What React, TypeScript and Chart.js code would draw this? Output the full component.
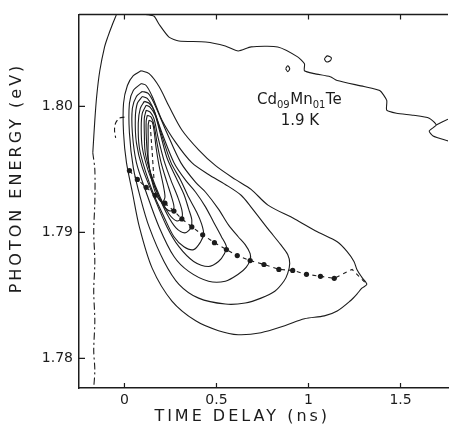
import { useEffect, useRef } from "react";
import { Chart, registerables } from "chart.js";

Chart.register(...registerables);

const INK = "#1c1c1c";
const FONT = '"DejaVu Sans", "Liberation Sans", sans-serif';

// axes
const xRange = [-0.247, 1.758];
const yRange = [1.77765, 1.80729];
const xTickValues = [0, 0.5, 1, 1.5];
const xTickLabels = ["0", "0.5", "1", "1.5"];
const yTickValues = [1.78, 1.79, 1.8];
const yTickLabels = ["1.78", "1.79", "1.80"];
const xTitle = "TIME DELAY (ns)";
const yTitle = "PHOTON ENERGY (eV)";
const sampleName = ["Cd", "09", "Mn", "01", "Te"];
const temperature = "1.9 K";

// [time delay (ns), photon energy (eV)]
const leftEdgeSolid: [number, number][] = [
  [-0.043, 1.80729], [-0.065, 1.80651], [-0.091, 1.80549], [-0.108, 1.80471],
  [-0.134, 1.80282], [-0.151, 1.80078], [-0.161, 1.7989], [-0.172, 1.79631],
];
const leftEdgeDashed: [number, number][] = [
  [-0.172, 1.79631], [-0.161, 1.79498], [-0.161, 1.79239], [-0.167, 1.79004],
  [-0.161, 1.78769], [-0.167, 1.78533], [-0.161, 1.78298], [-0.167, 1.78063],
  [-0.161, 1.77906], [-0.167, 1.77765],
];
const topRight: [number, number][] = [
  [0.118, 1.80729], [0.161, 1.80714], [0.188, 1.80651], [0.242, 1.80549],
  [0.296, 1.80518], [0.441, 1.8051], [0.548, 1.80478], [0.618, 1.80439],
  [0.688, 1.80471], [0.833, 1.80471], [0.941, 1.80392], [0.978, 1.80337],
  [0.978, 1.80282], [1.032, 1.80259], [1.118, 1.80235], [1.156, 1.80204],
  [1.301, 1.80157], [1.387, 1.80125], [1.425, 1.80047], [1.425, 1.79969],
  [1.478, 1.79945], [1.57, 1.79929], [1.656, 1.79906], [1.694, 1.79851],
  [1.656, 1.79804], [1.677, 1.79765], [1.758, 1.79725],
];
const topRightBranch: [number, number][] = [[1.694, 1.79851], [1.758, 1.79898]];
const islandA: [number, number][] = [
  [1.086, 1.80376], [1.102, 1.804], [1.124, 1.80384], [1.118, 1.80361], [1.097, 1.80353], [1.086, 1.80376],
];
const islandB: [number, number][] = [
  [0.876, 1.80298], [0.887, 1.80322], [0.898, 1.80298], [0.887, 1.80275], [0.876, 1.80298],
];

const contour1: [number, number][] = [
  [0.091, 1.80282], [0.134, 1.80259], [0.188, 1.80157], [0.242, 1.8], [0.312, 1.79812],
  [0.403, 1.79655], [0.495, 1.79529], [0.602, 1.7942], [0.688, 1.79341], [0.78, 1.79216],
  [0.925, 1.79106], [1.048, 1.79004], [1.156, 1.78925], [1.21, 1.78847], [1.247, 1.78769],
  [1.263, 1.78706], [1.29, 1.78643], [1.317, 1.78588], [1.29, 1.78557], [1.263, 1.7851],
  [1.226, 1.78455], [1.156, 1.78376], [1.086, 1.78337], [0.978, 1.78314], [0.871, 1.78259],
  [0.742, 1.78204], [0.618, 1.78188], [0.511, 1.7822], [0.387, 1.78298], [0.258, 1.78455],
  [0.151, 1.78714], [0.081, 1.79043], [0.043, 1.79318], [0.011, 1.79553], [-0.005, 1.79788],
  [-0.005, 1.80024], [0.016, 1.80165], [0.048, 1.80243], [0.091, 1.80282],
];
const contour2: [number, number][] = [
  [0.091, 1.8018], [0.118, 1.80165], [0.151, 1.80078], [0.204, 1.7989], [0.28, 1.7971],
  [0.366, 1.79553], [0.457, 1.79459], [0.548, 1.7938], [0.634, 1.79294], [0.688, 1.792],
  [0.78, 1.79027], [0.849, 1.78902], [0.887, 1.78824], [0.898, 1.78753], [0.887, 1.78675],
  [0.866, 1.78612], [0.817, 1.78533], [0.742, 1.78478], [0.656, 1.78439], [0.548, 1.78431],
  [0.403, 1.78478], [0.296, 1.78588], [0.215, 1.78769], [0.134, 1.79043], [0.086, 1.79278],
  [0.048, 1.79514], [0.027, 1.79788], [0.027, 1.80024], [0.048, 1.80125], [0.091, 1.8018],
];
const contour3: [number, number][] = [
  [0.097, 1.80118], [0.129, 1.80102], [0.161, 1.80024], [0.231, 1.79788], [0.306, 1.79553],
  [0.387, 1.79396], [0.441, 1.79318], [0.511, 1.79184], [0.565, 1.79059], [0.618, 1.78965],
  [0.656, 1.78902], [0.683, 1.78831], [0.683, 1.78784], [0.661, 1.78722], [0.618, 1.78667],
  [0.548, 1.78612], [0.457, 1.78612], [0.349, 1.7869], [0.269, 1.78808], [0.188, 1.79043],
  [0.118, 1.79318], [0.065, 1.79553], [0.043, 1.79788], [0.043, 1.79984], [0.065, 1.80078],
  [0.097, 1.80118],
];
const contour4: [number, number][] = [
  [0.097, 1.80078], [0.124, 1.80063], [0.151, 1.8], [0.204, 1.79788], [0.269, 1.79553],
  [0.333, 1.79412], [0.387, 1.79318], [0.441, 1.792], [0.484, 1.79082], [0.527, 1.78965],
  [0.554, 1.78886], [0.543, 1.78831], [0.511, 1.78769], [0.457, 1.78729], [0.376, 1.78769],
  [0.296, 1.78886], [0.231, 1.79043], [0.161, 1.79278], [0.097, 1.79514], [0.065, 1.7971],
  [0.059, 1.79906], [0.07, 1.80024], [0.097, 1.80078],
];
const contour5: [number, number][] = [
  [0.108, 1.80039], [0.134, 1.80024], [0.161, 1.79969], [0.199, 1.79788], [0.253, 1.79553],
  [0.306, 1.79412], [0.349, 1.79278], [0.392, 1.79161], [0.419, 1.79067], [0.43, 1.78988],
  [0.414, 1.78925], [0.376, 1.78863], [0.323, 1.78886], [0.269, 1.78965], [0.215, 1.79122],
  [0.161, 1.79294], [0.113, 1.7949], [0.081, 1.79671], [0.075, 1.79867], [0.086, 1.79984],
  [0.108, 1.80039],
];
const contour6: [number, number][] = [
  [0.118, 1.80008], [0.14, 1.79992], [0.167, 1.79929], [0.194, 1.79788], [0.231, 1.79592],
  [0.28, 1.79435], [0.323, 1.79302], [0.349, 1.79184], [0.366, 1.79098], [0.36, 1.79035],
  [0.328, 1.78996], [0.28, 1.79035], [0.231, 1.79145], [0.177, 1.79318], [0.129, 1.7949],
  [0.097, 1.79671], [0.091, 1.79827], [0.097, 1.79945], [0.118, 1.80008],
];
const contour7: [number, number][] = [
  [0.118, 1.79969], [0.14, 1.79953], [0.161, 1.79898], [0.183, 1.79749], [0.215, 1.79569],
  [0.253, 1.79412], [0.29, 1.79278], [0.312, 1.79176], [0.312, 1.79114], [0.285, 1.7909],
  [0.242, 1.79145], [0.194, 1.79278], [0.145, 1.79459], [0.113, 1.79631], [0.108, 1.79788],
  [0.108, 1.79906], [0.118, 1.79969],
];
const contour8: [number, number][] = [
  [0.124, 1.79929], [0.145, 1.79914], [0.161, 1.79851], [0.177, 1.7971], [0.199, 1.79553],
  [0.231, 1.79396], [0.258, 1.79271], [0.269, 1.79192], [0.247, 1.79169], [0.21, 1.79216],
  [0.172, 1.79333], [0.14, 1.79475], [0.124, 1.79631], [0.118, 1.79788], [0.118, 1.79882],
  [0.124, 1.79929],
];
const contour9: [number, number][] = [
  [0.134, 1.7989], [0.151, 1.79875], [0.161, 1.79804], [0.172, 1.79671], [0.188, 1.79529],
  [0.21, 1.7938], [0.22, 1.79278], [0.204, 1.79239], [0.172, 1.79302], [0.145, 1.79435],
  [0.129, 1.79592], [0.129, 1.79749], [0.129, 1.79851], [0.134, 1.7989],
];
const innerDashed: [number, number][] = [
  [0.14, 1.79851], [0.145, 1.79749], [0.151, 1.79631], [0.156, 1.79514], [0.161, 1.79412],
];
const leftArc: [number, number][] = [
  [0, 1.79914], [-0.027, 1.79906], [-0.048, 1.79867], [-0.054, 1.79812], [-0.048, 1.79749],
];

// peak positions (dots)
const peakTime = [
  0.027, 0.07, 0.118, 0.167, 0.22, 0.269, 0.312, 0.366, 0.425, 0.489,
  0.554, 0.613, 0.683, 0.758, 0.839, 0.914, 0.989, 1.065, 1.14,
];
const peakEnergy = [
  1.7949, 1.7942, 1.79357, 1.79294, 1.79231, 1.79169, 1.79106, 1.79043, 1.7898, 1.78918,
  1.78863, 1.78816, 1.78776, 1.78745, 1.78706, 1.78698, 1.78667, 1.78651, 1.78635,
];
const traceTailTime = [1.194, 1.237, 1.274, 1.317];
const traceTailEnergy = [1.78675, 1.78706, 1.78651, 1.78588];

const toXY = (pts: [number, number][]) => pts.map(([x, y]) => ({ x, y }));

const line = (pts: [number, number][], extra: any = {}) => ({
  data: toXY(pts),
  showLine: true,
  pointRadius: 0,
  borderColor: INK,
  borderWidth: 1.1,
  tension: 0.3,
  ...extra,
});

const framePlugin = {
  id: "frame",
  afterDraw(chart: any) {
    const { ctx, chartArea: a, scales } = chart;
    const xs = scales.x;
    const ys = scales.y;
    ctx.save();
    ctx.strokeStyle = INK;
    ctx.lineWidth = 1.5;
    ctx.beginPath();
    ctx.moveTo(a.left, a.top);
    ctx.lineTo(a.right, a.top);
    ctx.stroke();
    ctx.lineWidth = 1.2;
    ctx.beginPath();
    xTickValues.forEach((v) => {
      const p = xs.getPixelForValue(v);
      ctx.moveTo(p, a.bottom);
      ctx.lineTo(p, a.bottom - 5);
      ctx.moveTo(p, a.top);
      ctx.lineTo(p, a.top + 5);
    });
    yTickValues.forEach((v) => {
      const p = ys.getPixelForValue(v);
      ctx.moveTo(a.left, p);
      ctx.lineTo(a.left + 6, p);
    });
    ctx.stroke();

    ctx.fillStyle = INK;
    ctx.font = `16px ${FONT}`;
    (ctx as any).letterSpacing = "3px";
    ctx.textAlign = "center";
    ctx.textBaseline = "middle";
    ctx.fillText(xTitle, xs.getPixelForValue(0.64), 417);
    ctx.save();
    ctx.translate(17, 178);
    ctx.rotate(-Math.PI / 2);
    ctx.fillText(yTitle, 0, 0);
    ctx.restore();

    (ctx as any).letterSpacing = "0px";
    ctx.textAlign = "left";
    ctx.textBaseline = "alphabetic";
    let cx = xs.getPixelForValue(0.72);
    const base = ys.getPixelForValue(1.8002);
    sampleName.forEach((part, i) => {
      const sub = i % 2 === 1;
      ctx.font = sub ? `10px ${FONT}` : `15px ${FONT}`;
      ctx.fillText(part, cx, sub ? base + 4 : base);
      cx += ctx.measureText(part).width + (sub ? 0.5 : 0);
    });
    ctx.font = `15px ${FONT}`;
    ctx.fillText(temperature, xs.getPixelForValue(0.849), ys.getPixelForValue(1.79851));
    ctx.restore();
  },
};

export default function App() {
  const ref = useRef<HTMLCanvasElement | null>(null);
  useEffect(() => {
    document.body.style.margin = "0";
    if (!ref.current) return;
    const chart = new Chart(ref.current, {
      type: "scatter",
      data: {
        datasets: [
          line(leftEdgeSolid),
          line(leftEdgeDashed, { borderDash: [7, 3, 2, 3] }),
          line(topRight, { tension: 0.2 }),
          line(topRightBranch),
          line(islandA),
          line(islandB),
          line(contour1),
          line(contour2),
          line(contour3),
          line(contour4),
          line(contour5),
          line(contour6),
          line(contour7),
          line(contour8),
          line(contour9),
          line(innerDashed, { borderDash: [4, 3] }),
          line(leftArc, { borderDash: [5, 3] }),
          {
            data: peakTime.concat(traceTailTime).map((x, i) => ({
              x,
              y: peakEnergy.concat(traceTailEnergy)[i],
            })),
            showLine: true,
            pointRadius: 0,
            borderColor: INK,
            borderWidth: 1.1,
            borderDash: [4, 4],
            tension: 0,
          },
          {
            data: peakTime.map((x, i) => ({ x, y: peakEnergy[i] })),
            showLine: false,
            pointRadius: 2.6,
            pointBackgroundColor: INK,
            pointBorderColor: INK,
            pointBorderWidth: 0,
          },
        ],
      },
      options: {
        animation: false,
        responsive: false,
        devicePixelRatio: 1,
        layout: { padding: { top: 10, right: 0, left: 0, bottom: 0 } },
        plugins: { legend: { display: false }, tooltip: { enabled: false } },
        scales: {
          x: {
            type: "linear",
            min: xRange[0],
            max: xRange[1],
            grid: { display: false, drawTicks: false },
            border: { display: true, color: INK, width: 1.5 },
            afterBuildTicks: (s: any) => {
              s.ticks = xTickValues.map((value) => ({ value }));
            },
            afterFit: (s: any) => {
              s.height = 41;
            },
            ticks: {
              padding: 4,
              color: INK,
              font: { family: FONT, size: 14 },
              maxRotation: 0,
              callback: (v: any) => xTickLabels[xTickValues.indexOf(v)] ?? "",
            },
          },
          y: {
            type: "linear",
            min: yRange[0],
            max: yRange[1],
            grid: { display: false, drawTicks: false },
            border: { display: true, color: INK, width: 1.5 },
            afterBuildTicks: (s: any) => {
              s.ticks = yTickValues.map((value) => ({ value }));
            },
            afterFit: (s: any) => {
              s.width = 79;
            },
            ticks: {
              padding: 6,
              color: INK,
              font: { family: FONT, size: 14 },
              callback: (v: any) => yTickLabels[yTickValues.indexOf(v)] ?? "",
            },
          },
        },
      },
      plugins: [framePlugin],
    });
    return () => chart.destroy();
  }, []);
  return (
    <div style={{ width: 452, height: 429 }}>
      <canvas ref={ref} width={452} height={429} />
    </div>
  );
}
